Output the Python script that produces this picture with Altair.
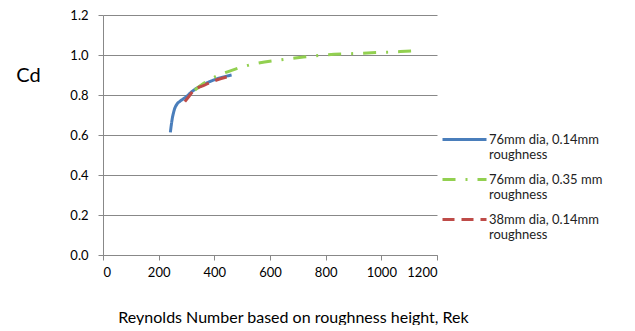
import altair as alt
import pandas as pd

series_names = ["76mm dia, 0.14mm|roughness", "76mm dia, 0.35 mm|roughness", "38mm dia, 0.14mm|roughness"]
colors = ["#4A7EBB", "#92D050", "#BE4B48"]

blue_x = [242, 248, 256, 266, 276, 295, 324, 365, 408, 462]
blue_y = [0.613, 0.675, 0.725, 0.755, 0.768, 0.787, 0.822, 0.855, 0.880, 0.900]

green_x = [330, 370, 412, 460, 504, 552, 648, 720, 792, 912, 1000, 1068, 1134]
green_y = [0.825, 0.865, 0.897, 0.922, 0.942, 0.958, 0.978, 0.990, 1.000, 1.008, 1.013, 1.017, 1.022]

red_x = [294, 310, 324, 366, 408, 459]
red_y = [0.767, 0.795, 0.820, 0.850, 0.875, 0.895]

rows = []
for name, xs, ys in zip(series_names, [blue_x, green_x, red_x], [blue_y, green_y, red_y]):
    for i, (x, y) in enumerate(zip(xs, ys)):
        rows.append({"series": name, "Re": x, "Cd": y, "order": i})
df = pd.DataFrame(rows)

font = "Lato"

chart = alt.Chart(df).mark_line(strokeWidth=3, interpolate="monotone").encode(
    x=alt.X("Re:Q", scale=alt.Scale(domain=[0, 1200], nice=False),
            axis=alt.Axis(values=[0, 200, 400, 600, 800, 1000, 1200], grid=False, format="d",
                          title="Reynolds Number based on roughness height, Rek",
                          titleFontSize=16, titleFontWeight="normal", titlePadding=30,
                          titleX=190, titleAnchor="middle",
                          titleFont=font, titleColor="#000")),
    y=alt.Y("Cd:Q", scale=alt.Scale(domain=[0, 1.2], nice=False),
            axis=alt.Axis(values=[0, 0.2, 0.4, 0.6, 0.8, 1.0, 1.2], format=".1f",
                          title="Cd", titleAngle=0, titleFontSize=20,
                          titleFontWeight="normal", titleX=-75, titleY=70,
                          titleFont=font, titleColor="#000", labelPadding=10)),
    color=alt.Color("series:N", sort=series_names,
                    scale=alt.Scale(domain=series_names, range=colors),
                    legend=alt.Legend(title=None, orient="none", legendX=344, legendY=107,
                                      symbolType="M-1.375,0H1.375", symbolSize=1024, symbolStrokeWidth=3,
                                      labelExpr="split(datum.label, '|')", labelOffset=7,
                                      labelFontSize=13, labelFont=font, labelColor="#222",
                                      rowPadding=0, labelLimit=300, labelBaseline="middle")),
    strokeDash=alt.StrokeDash("series:N", sort=series_names,
                              scale=alt.Scale(domain=series_names,
                                              range=[[1, 0], [13, 10, 2, 10], [12, 7]]),
                              legend=None),
    order="order:Q",
).properties(
    width=334, height=240,
    padding={"left": 95, "top": 7, "right": 190, "bottom": 70},
    autosize=alt.AutoSizeParams(type="none"),
).configure_axis(
    gridColor="#888", domainColor="#888", tickColor="#888",
    labelFont=font, labelFontSize=13, labelColor="#000", labelPadding=6, tickSize=5,
).configure_view(stroke=None)

chart.save("out.html", embed_options={"renderer": "svg", "actions": False})
